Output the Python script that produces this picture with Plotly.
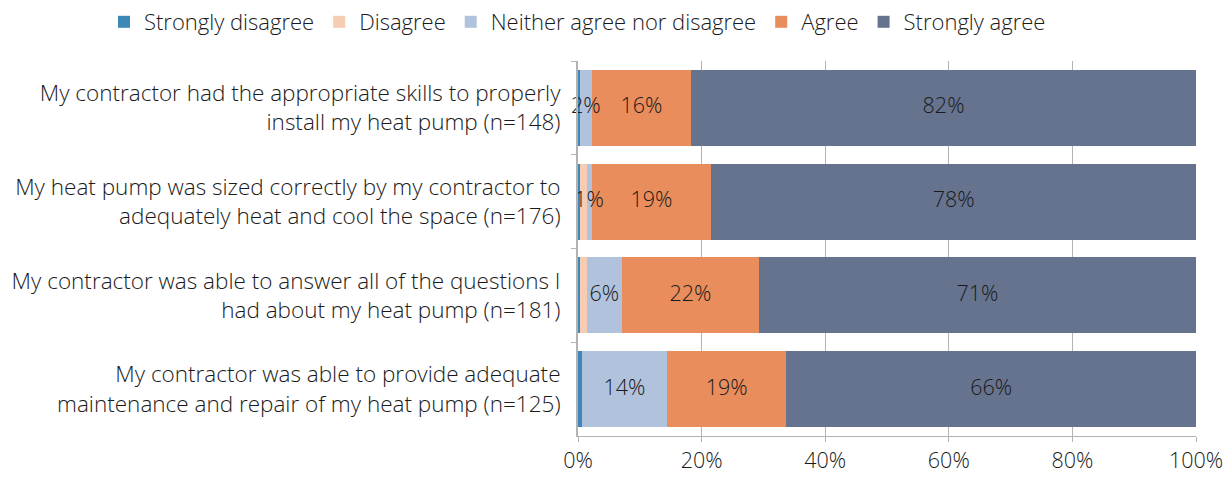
import plotly.graph_objects as go

# Survey statements (top to bottom)
statements = [
    "My contractor had the appropriate skills to properly<br>install my heat pump (n=148)",
    "My heat pump was sized correctly by my contractor to<br>adequately heat and cool the space (n=176)",
    "My contractor was able to answer all of the questions I<br>had about my heat pump (n=181)",
    "My contractor was able to provide adequate<br>maintenance and repair of my heat pump (n=125)",
]

# Share of respondents (%) per response level
strongly_disagree = [0.3, 0.3, 0.3, 0.6]
disagree = [0.0, 1.1, 1.1, 0.0]
neither = [1.9, 0.8, 5.7, 13.8]
agree = [16.1, 19.4, 22.2, 19.3]
strongly_agree = [81.7, 78.4, 70.7, 66.3]

series = [
    ("Strongly disagree", strongly_disagree, "#3D88B6", False),
    ("Disagree", disagree, "#F6CDB3", False),
    ("Neither agree nor disagree", neither, "#B1C3DC", True),
    ("Agree", agree, "#E98D5C", True),
    ("Strongly agree", strongly_agree, "#66738F", True),
]

FONT = "Open Sans"
TEXT_COLOR = "#1a1a1a"
GRID = "#b3b3b3"


def font(size):
    return dict(family=FONT, size=size, color=TEXT_COLOR, weight=300)


fig = go.Figure()

# Stacked segments
for name, vals, color, _ in series:
    fig.add_trace(go.Bar(
        name=name,
        y=statements,
        x=vals,
        orientation="h",
        marker=dict(color=color, line=dict(width=0)),
        hoverinfo="x+name",
    ))

# Percentage labels centred on each labelled segment, drawn above all bars
label_x, label_y, label_text = [], [], []
base = [0.0] * len(statements)
for _, vals, _, labelled in series:
    for i, v in enumerate(vals):
        if labelled:
            label_x.append(base[i] + v / 2)
            label_y.append(statements[i])
            label_text.append(f"{v:.0f}%")
        base[i] += v

fig.add_trace(go.Scatter(
    x=label_x,
    y=label_y,
    text=label_text,
    mode="text",
    textposition="middle center",
    textfont=font(21.5),
    showlegend=False,
    hoverinfo="skip",
    cliponaxis=False,
))

PLOT_LEFT, PLOT_RIGHT, PLOT_TOP, PLOT_BOTTOM = 578, 1196, 61, 436
plot_w = PLOT_RIGHT - PLOT_LEFT
plot_h = PLOT_BOTTOM - PLOT_TOP

fig.update_layout(
    barmode="stack",
    bargap=0.19,
    width=1231,
    height=477,
    margin=dict(l=PLOT_LEFT, r=1231 - PLOT_RIGHT, t=PLOT_TOP, b=477 - PLOT_BOTTOM,
                autoexpand=False),
    plot_bgcolor="white",
    paper_bgcolor="white",
    font=font(21.5),
    legend=dict(
        orientation="h",
        traceorder="normal",
        x=(104 - PLOT_LEFT) / plot_w, xref="paper",
        xanchor="left",
        y=1 + (PLOT_TOP - 1) / plot_h, yref="paper",
        yanchor="top",
        font=font(22),
        itemwidth=30,
        tracegroupgap=0,
    ),
    xaxis=dict(
        range=[0, 100],
        tickvals=[0, 20, 40, 60, 80, 100],
        ticktext=["0%", "20%", "40%", "60%", "80%", "100%"],
        showgrid=True,
        gridcolor=GRID,
        gridwidth=1,
        showline=True,
        linecolor=GRID,
        linewidth=1,
        ticks="outside",
        ticklen=5,
        tickcolor=GRID,
        zeroline=False,
        tickfont=font(21.5),
        fixedrange=True,
    ),
    yaxis=dict(
        autorange="reversed",
        showline=True,
        linecolor=GRID,
        linewidth=2,
        ticks="outside",
        tickson="boundaries",
        ticklen=5,
        tickcolor=GRID,
        tickfont=font(22.5),
        ticklabelstandoff=11,
        fixedrange=True,
    ),
)

fig.write_html("out.html")
